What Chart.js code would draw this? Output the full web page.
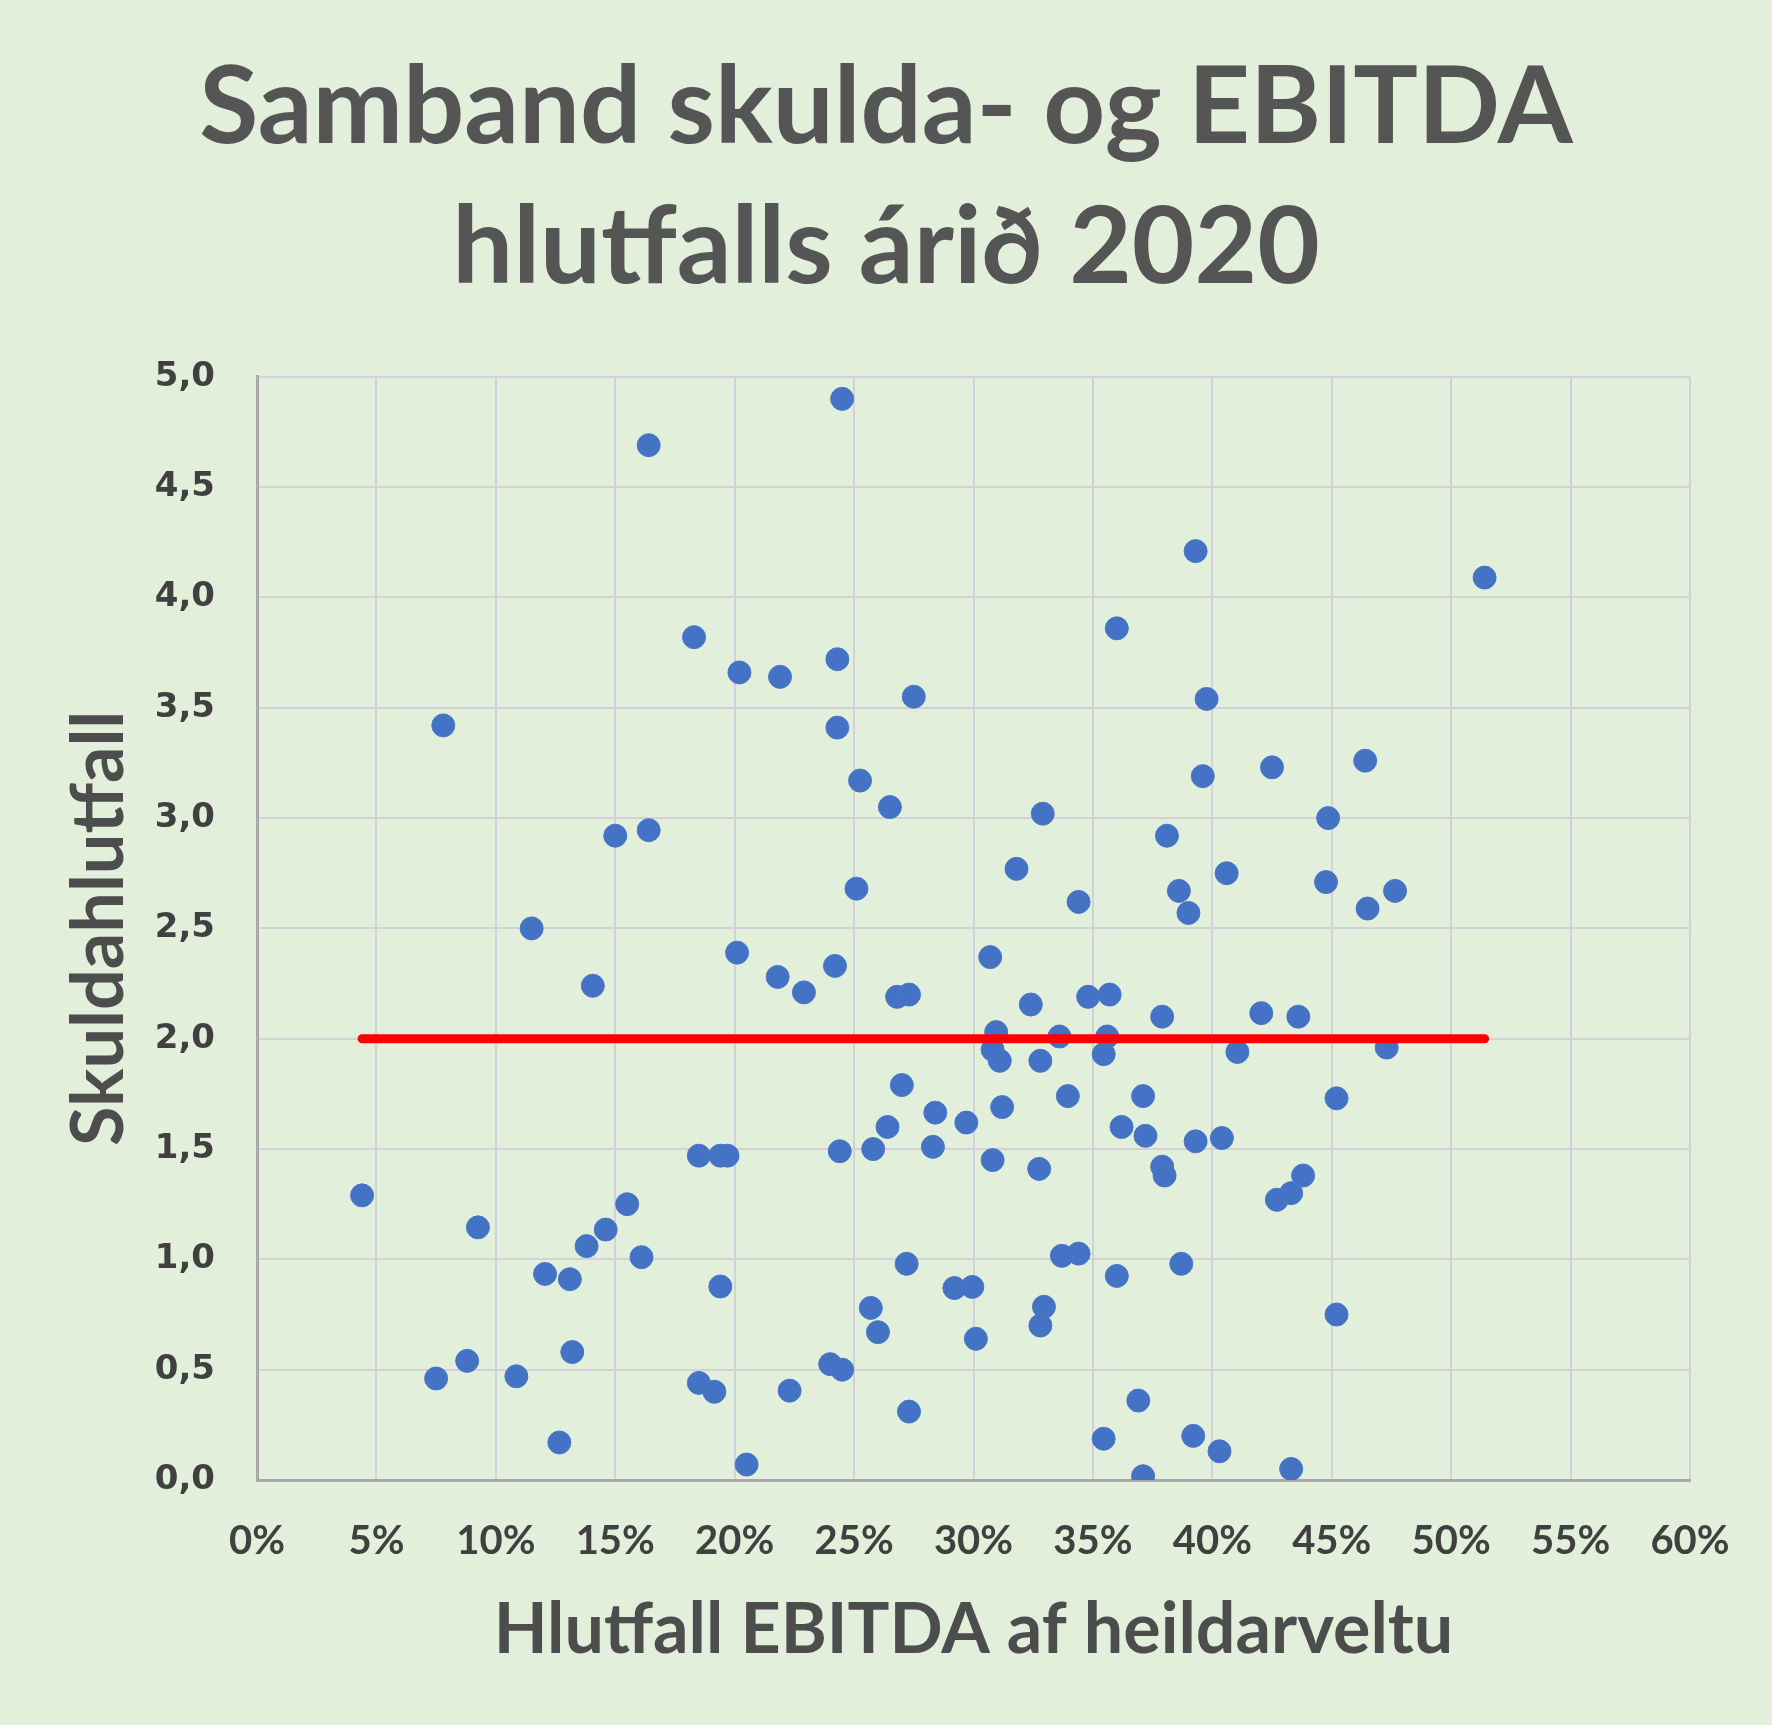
<!DOCTYPE html>
<html>
<head>
<meta charset="utf-8">
<script src="https://cdn.jsdelivr.net/npm/chart.js@4.4.1/dist/chart.umd.min.js"></script>
<style>
  html, body { margin:0; padding:0; background:#e2efda; }
  #wrap { width:1772px; height:1725px; }
</style>
</head>
<body>
<div id="wrap"><canvas id="skuldaChart" width="1772" height="1725"></canvas></div>
<script>
// EBITDA as % of revenue (x) and debt ratio (y), one entry per company
const ebitdaPct = [
  16.4, 18.3, 7.8, 15.0, 16.4, 11.5, 14.06, 18.5, 19.4, 19.7,
  4.4, 9.25, 15.5, 14.6, 13.8, 16.1, 12.06, 13.1, 19.4, 13.2,
  8.8, 7.5, 10.86, 18.5, 19.15, 12.66,
  20.2, 21.9, 24.5, 24.3, 24.3, 27.5, 25.25, 26.5, 25.1, 20.1,
  21.8, 22.9, 24.2, 26.8, 27.3, 27.0, 28.4, 26.4, 29.7, 24.4,
  25.8, 28.3, 27.2, 29.2, 29.95, 25.7, 26.0, 24.0, 24.5, 22.3,
  27.3, 20.5,
  39.3, 36.0, 39.76, 39.6, 32.9, 38.1, 31.8, 34.4, 38.6, 39.0,
  30.7, 32.4, 34.8, 35.7, 37.9, 30.95, 30.8, 31.1, 33.6, 32.8,
  35.6, 35.45, 31.2, 33.95, 37.1, 36.2, 37.2, 39.3, 30.8, 32.75,
  37.9, 38.0, 34.4, 33.7, 36.0, 38.7, 30.1, 32.95, 32.8, 36.9,
  35.45, 39.2, 37.1,
  40.6, 40.4, 40.3, 41.05, 51.4, 42.5, 46.4, 44.85, 44.76, 47.65,
  46.5, 42.05, 43.6, 47.3, 45.2, 43.8, 43.3, 42.7, 45.2, 43.3
];
const debtRatio = [
  4.69, 3.82, 3.42, 2.92, 2.945, 2.50, 2.24, 1.47, 1.47, 1.47,
  1.29, 1.145, 1.25, 1.135, 1.06, 1.01, 0.934, 0.91, 0.877, 0.58,
  0.54, 0.46, 0.47, 0.44, 0.40, 0.17,
  3.66, 3.64, 4.90, 3.72, 3.41, 3.55, 3.17, 3.05, 2.68, 2.39,
  2.28, 2.21, 2.33, 2.19, 2.20, 1.79, 1.665, 1.60, 1.62, 1.49,
  1.50, 1.51, 0.98, 0.87, 0.875, 0.78, 0.67, 0.525, 0.50, 0.405,
  0.31, 0.07,
  4.21, 3.86, 3.54, 3.19, 3.02, 2.92, 2.77, 2.62, 2.67, 2.57,
  2.37, 2.155, 2.19, 2.20, 2.10, 2.03, 1.95, 1.90, 2.01, 1.90,
  2.01, 1.93, 1.69, 1.74, 1.74, 1.60, 1.56, 1.535, 1.45, 1.41,
  1.42, 1.38, 1.026, 1.016, 0.925, 0.98, 0.64, 0.785, 0.70, 0.36,
  0.187, 0.20, 0.017,
  2.75, 1.55, 0.13, 1.94, 4.09, 3.23, 3.26, 3.00, 2.71, 2.67,
  2.59, 2.116, 2.10, 1.96, 1.73, 1.38, 1.30, 1.27, 0.75, 0.05
];
// red reference line at debt ratio 2,0 across the data range
const refLineX = [4.4, 51.4];
const refLineY = [2.0, 2.0];

const titleLines = ['Samband skulda- og EBITDA', 'hlutfalls árið 2020'];
const xTitle = 'Hlutfall EBITDA af heildarveltu';
const yTitle = 'Skuldahlutfall';

const points = ebitdaPct.map((x, i) => ({x: x, y: debtRatio[i]}));
const refLine = refLineX.map((x, i) => ({x: x, y: refLineY[i]}));

const bgPlugin = {
  id: 'bg',
  beforeDraw(chart){
    const c = chart.ctx;
    c.save();
    c.fillStyle = '#e2efda';
    c.fillRect(0, 0, chart.width, chart.height);
    c.restore();
  }
};

const gridCol = '#d4d0da';
const axisCol = '#a9a9a9';

new Chart(document.getElementById('skuldaChart').getContext('2d'), {
  type: 'scatter',
  data: {
    datasets: [
      { label: 'Meðaltal', data: refLine, type: 'line', showLine: true, borderColor: '#ff0000',
        borderWidth: 9, borderCapStyle: 'round', pointRadius: 0, fill: false, order: 0 },
      { label: 'Fyrirtæki', data: points, backgroundColor: '#4472c4', borderColor: '#4a78c8',
        borderWidth: 1, pointRadius: 11.5, order: 1 }
    ]
  },
  options: {
    responsive: false,
    devicePixelRatio: 1,
    animation: false,
    layout: { padding: 0 },
    plugins: {
      legend: { display: false },
      tooltip: { enabled: false },
      title: {
        display: true,
        text: titleLines,
        color: '#555555',
        font: { family: 'Lato', weight: 'bold', size: 108, lineHeight: 1.3 },
        padding: { top: 38, bottom: 58 }
      }
    },
    scales: {
      x: {
        type: 'linear', min: 0, max: 60,
        ticks: { stepSize: 5, padding: 37, color: '#404040',
          font: { family: 'Lato', weight: 'bold', size: 40 },
          callback: v => v + '%' },
        grid: { color: gridCol, lineWidth: 2, drawTicks: false },
        border: { color: axisCol, width: 3 },
        title: { display: true, text: xTitle, color: '#4d4d4d',
          font: { family: 'Lato', weight: 'bold', size: 70, lineHeight: 1.2 },
          padding: { top: 53, bottom: 53 } },
        afterFit(s){ s.height = 245; s.paddingRight = 82; }
      },
      y: {
        type: 'linear', min: 0, max: 5,
        ticks: { stepSize: 0.5, padding: 42, color: '#404040',
          font: { family: 'DejaVu Sans', weight: 'bold', size: 34 },
          callback: v => v.toFixed(1).replace('.', ',') },
        grid: { color: gridCol, lineWidth: 2, drawTicks: false },
        border: { color: axisCol, width: 3 },
        title: { display: true, text: yTitle, color: '#4d4d4d',
          font: { family: 'Lato', weight: 'bold', size: 72, lineHeight: 1.2 },
          padding: { top: 57, bottom: 0 } },
        afterFit(s){ s.width = 257; }
      }
    }
  },
  plugins: [bgPlugin]
});
</script>
</body>
</html>
